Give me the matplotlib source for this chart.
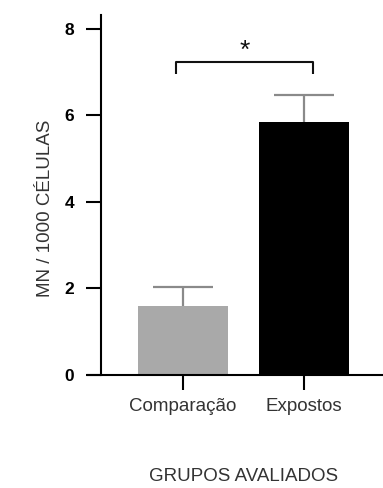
import numpy as np
import matplotlib
matplotlib.use("Agg")
import matplotlib.pyplot as plt

grupos = ["Comparação", "Expostos"]
medias = [1.60, 5.84]
erros = [0.43, 0.64]
cores = ["#a9a9a9", "#000000"]
y_ticks = [0, 2, 4, 6, 8]
bracket_y = 7.24
bracket_drop = 0.28

plt.rcParams['font.family'] = ['Liberation Sans', 'DejaVu Sans']

fig = plt.figure(figsize=(3.83, 4.88), dpi=100)
ax = fig.add_axes([0.23, 0.2316, 0.77, 0.7374])

x = np.arange(len(grupos))
topo = np.array(medias) + np.array(erros)
# so a parte de cima do erro
ax.vlines(x, medias, topo, color="#8a8a8a", lw=1.6, zorder=1)
ax.hlines(topo, x - 0.248, x + 0.248, color="#8a8a8a", lw=1.6, zorder=1)
ax.bar(x, medias, width=0.744, color=cores, zorder=2)

# barra de significancia
xb = [x[0] - 0.06, x[0] - 0.06, x[1] + 0.075, x[1] + 0.075]
yb = [bracket_y - bracket_drop, bracket_y, bracket_y, bracket_y - bracket_drop]
ax.plot(xb, yb, color="#111111", lw=1.5, solid_capstyle="butt")
ax.text((xb[0] + xb[-1]) / 2, bracket_y - 0.02, "*", ha="center", va="bottom",
        fontsize=19, color="#111111")

ax.set_xlim(-0.785, 1.653)
ax.set_ylim(0, 8.32)
ax.spines['left'].set_position(('data', -0.678))
for s in ['top', 'right']:
    ax.spines[s].set_visible(False)
for s in ['left', 'bottom']:
    ax.spines[s].set_linewidth(1.5)

ax.set_yticks(y_ticks)
ax.set_yticklabels([str(v) for v in y_ticks], fontweight="bold", fontsize=12.5)
ax.set_xticks(x)
ax.set_xticklabels(grupos, fontsize=13.5, color="#333333")
ax.tick_params(axis='both', length=10.5, width=1.5)
ax.tick_params(axis='y', pad=9)
ax.tick_params(axis='x', pad=6)

fig.text(0.118, 0.574, "MN / 1000 CÉLULAS", rotation=90, ha="center", va="center",
         fontsize=13.5, color="#333333")
fig.text(0.635, 0.024, "GRUPOS AVALIADOS", ha="center", va="center",
         fontsize=13.5, color="#333333")

fig.savefig("out.png", dpi=100)
